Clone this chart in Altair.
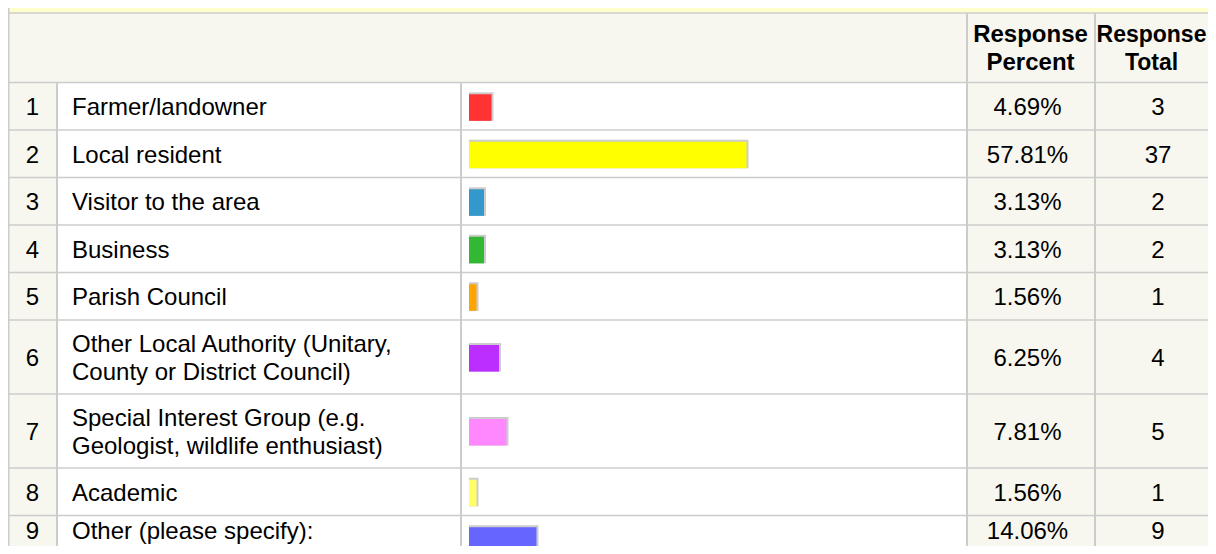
import altair as alt
import pandas as pd

# ---------------- data ----------------
numbers = [1, 2, 3, 4, 5, 6, 7, 8, 9]
labels = [
    "Farmer/landowner",
    "Local resident",
    "Visitor to the area",
    "Business",
    "Parish Council",
    "Other Local Authority (Unitary,\nCounty or District Council)",
    "Special Interest Group (e.g.\nGeologist, wildlife enthusiast)",
    "Academic",
    "Other (please specify):",
]
percents = [4.69, 57.81, 3.13, 3.13, 1.56, 6.25, 7.81, 1.56, 14.06]
totals = [3, 37, 2, 2, 1, 4, 5, 1, 9]
bar_colors = ["#ff3333", "#ffff00", "#3399cc", "#33b833", "#ffa500",
              "#bb2eff", "#ff88ff", "#ffff66", "#6666ff"]
header_percent = "Response\nPercent"
header_total = "Response\nTotal"

# ---------------- layout (style) ----------------
W, H = 1200, 538
COLS = [0, 49, 453, 959, 1087, 1213]
HEADER_TOP, HEADER_BOT = 5, 74.5
ROW_H1, EXTRA_LINE = 47.5, 26.5
GRID = "#cccccc"
BEIGE = "#f7f7ef"
BAND = "#ffffcc"
FONT = "Liberation Sans"
FS = 24
LH = 27.5
TEXT_FLOOR = H - 16   # keep a text line fully inside the view

# row geometry derived from the number of text lines of each label
rows = pd.DataFrame({
    "num": [str(n) for n in numbers], "label": labels, "pct": percents,
    "total": [str(t) for t in totals], "color": bar_colors,
})
tops, bots = [], []
y = HEADER_BOT
for lab in labels:
    h = ROW_H1 + EXTRA_LINE * lab.count("\n")
    tops.append(y)
    bots.append(y + h)
    y += h
rows["top"] = tops
rows["bot"] = bots
rows["mid"] = (rows["top"] + rows["bot"]) / 2
rows["text_y"] = rows["mid"].clip(upper=TEXT_FLOOR)
rows["label_y"] = rows["text_y"] - rows["label"].str.count("\n") * LH / 2
rows["bar_top"] = rows["mid"] - 12
rows["bar_bot"] = rows["mid"] + 14.6
rows["zero"] = 0.0

# background cells
bg = [dict(x=0, x2=W, y=0, y2=HEADER_TOP, c=BAND),
      dict(x=0, x2=W, y=HEADER_TOP, y2=HEADER_BOT, c=BEIGE)]
col_fill = [BEIGE, "#ffffff", "#ffffff", BEIGE, BEIGE]
for t, b in zip(tops, bots):
    for i, c in enumerate(col_fill):
        bg.append(dict(x=COLS[i], x2=min(COLS[i + 1], W), y=t, y2=min(b, H), c=c))
bg = pd.DataFrame(bg)
bg = bg[bg["y"] < H]

# grid lines
lines = [dict(x=0, x2=W, y=HEADER_TOP, y2=HEADER_TOP, w=1.5),
         dict(x=0, x2=W, y=HEADER_BOT, y2=HEADER_BOT, w=1.5)]
for b in bots:
    if b < H:
        lines.append(dict(x=0, x2=W, y=b, y2=b, w=1.5))
lines.append(dict(x=0.5, x2=0.5, y=0, y2=H, w=2))
for cx in COLS[1:3]:
    lines.append(dict(x=cx, x2=cx, y=HEADER_BOT, y2=H, w=2))
for cx in COLS[3:5]:
    lines.append(dict(x=cx, x2=cx, y=HEADER_TOP, y2=H, w=2))
lines = pd.DataFrame(lines)

headers = pd.DataFrame({
    "text": [header_percent, header_total],
    "xc": [1022.5, 1143.5],
    "fs": [FS, 23],
    "yc": [(HEADER_TOP + HEADER_BOT) / 2 - LH / 2] * 2,
})

xs = alt.Scale(domain=[0, W], range=[0, W])
ys = alt.Scale(domain=[0, H], reverse=True)
bar_scale = alt.Scale(domain=[0, 100], range=[COLS[2] + 8, COLS[2] + 8 + 480])

X = lambda f: alt.X(f, type="quantitative", scale=xs, axis=None)
Y = lambda f: alt.Y(f, type="quantitative", scale=ys, axis=None)

bg_layer = alt.Chart(bg).mark_rect(strokeWidth=0).encode(
    x=X("x"), x2="x2", y=Y("y"), y2="y2",
    fill=alt.Fill("c:N", scale=None),
)

grid_layer = alt.Chart(lines).mark_rule(color=GRID).encode(
    x=X("x"), x2="x2", y=Y("y"), y2="y2",
    size=alt.Size("w:Q", scale=None, legend=None),
)

shadow = alt.Chart(rows).mark_rect(color=GRID, x2Offset=2, yOffset=-2).encode(
    x=alt.X("zero:Q", scale=bar_scale, axis=None), x2="pct:Q",
    y=Y("bar_top"), y2="bar_bot",
)
bars = alt.Chart(rows).mark_rect().encode(
    x=alt.X("zero:Q", scale=bar_scale, axis=None), x2="pct:Q",
    y=Y("bar_top"), y2="bar_bot",
    fill=alt.Fill("color:N", scale=None),
)

txt = dict(font=FONT, fontSize=FS, color="#000000", baseline="middle", dy=2)

num_text = alt.Chart(rows).mark_text(align="center", **txt).encode(
    x=alt.value(24.5), y=Y("text_y"), text="num:N")
label_text = alt.Chart(rows).mark_text(
    align="left", lineBreak="\n", lineHeight=LH, **txt).encode(
    x=alt.value(64), y=Y("label_y"), text="label:N")
pct_text = alt.Chart(rows).transform_calculate(
    frac="datum.pct / 100").mark_text(align="center", **txt).encode(
    x=alt.value(1019.5), y=Y("text_y"), text=alt.Text("frac:Q", format=".2%"))
tot_text = alt.Chart(rows).mark_text(align="center", **txt).encode(
    x=alt.value(1150), y=Y("text_y"), text="total:N")
head_text = alt.Chart(headers).mark_text(
    align="center", fontWeight="bold", font=FONT, color="#000000",
    baseline="middle", dy=1, lineBreak="\n", lineHeight=LH).encode(
    x=X("xc"), y=Y("yc"), text="text:N",
    size=alt.Size("fs:Q", scale=None, legend=None))

chart = alt.layer(
    bg_layer, grid_layer, shadow, bars,
    num_text, label_text, pct_text, tot_text, head_text,
).resolve_scale(x="independent").properties(
    width=W, height=H, padding=0, background="#ffffff",
    autosize=alt.AutoSizeParams(type="none"),
).configure_view(stroke=None)

chart.save("out.html", embed_options={"renderer": "svg", "actions": False})
